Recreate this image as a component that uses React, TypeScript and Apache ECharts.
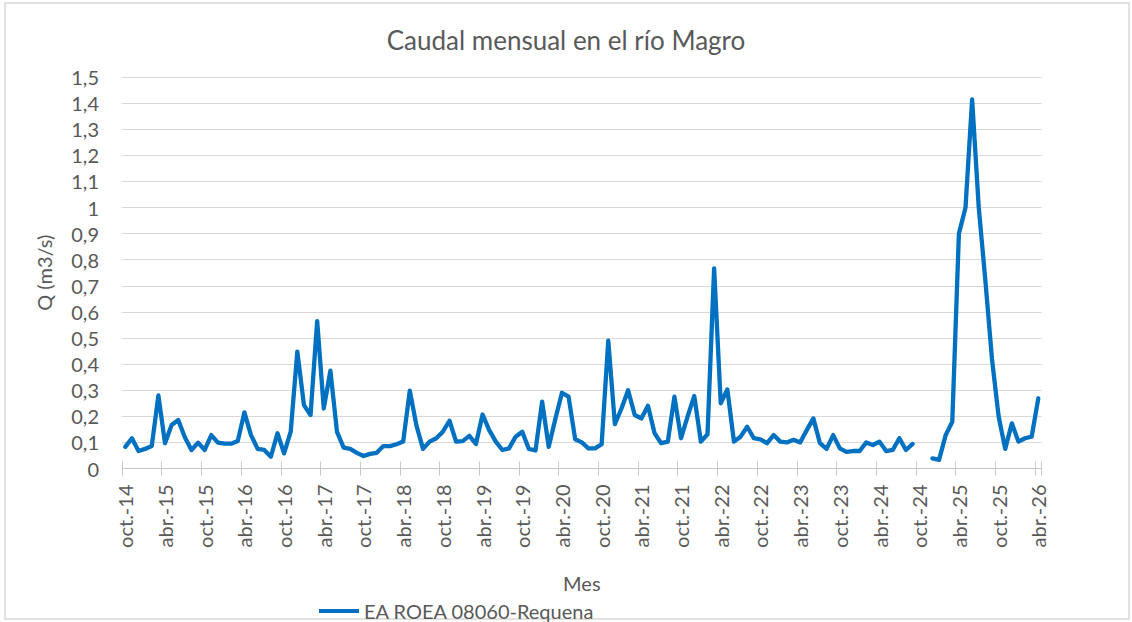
import React, { useEffect, useRef } from "react";
import * as echarts from "echarts";

const monthNames = ["oct.", "nov.", "dic.", "ene.", "feb.", "mar.", "abr.", "may.", "jun.", "jul.", "ago.", "sept."];
const startYear = 14;
const monthCount = 139;

const categories: string[] = [];
for (let i = 0; i < monthCount; i++) {
  const yy = startYear + Math.floor((i + 9) / 12);
  categories.push(`${monthNames[i % 12]}-${yy}`);
}

const seriesName = "EA ROEA 08060-Requena";

const flow2014_2017 = [
  0.083, 0.116, 0.067, 0.075, 0.086, 0.28, 0.097, 0.167, 0.186, 0.12, 0.071, 0.099,
  0.071, 0.128, 0.099, 0.095, 0.095, 0.105, 0.215, 0.128, 0.075, 0.071, 0.045, 0.135,
  0.058, 0.141, 0.448, 0.243, 0.205, 0.565, 0.23, 0.375, 0.14, 0.08, 0.075, 0.06,
];
const flow2017_2020 = [
  0.048, 0.056, 0.06, 0.086, 0.086, 0.093, 0.103, 0.298, 0.165, 0.075, 0.103, 0.116,
  0.141, 0.183, 0.103, 0.105, 0.125, 0.094, 0.207, 0.147, 0.103, 0.071, 0.077, 0.122,
  0.141, 0.075, 0.069, 0.256, 0.083, 0.19, 0.29, 0.275, 0.112, 0.1, 0.077, 0.077,
];
const flow2020_2023 = [
  0.093, 0.49, 0.17, 0.23, 0.3, 0.205, 0.192, 0.24, 0.135, 0.097, 0.103, 0.275,
  0.116, 0.2, 0.278, 0.103, 0.131, 0.767, 0.25, 0.303, 0.103, 0.122, 0.16, 0.116,
  0.112, 0.097, 0.128, 0.103, 0.1, 0.11, 0.1, 0.147, 0.192, 0.097, 0.075, 0.128,
];
const flow2023_2026 = [
  0.077, 0.064, 0.067, 0.067, 0.1, 0.09, 0.103, 0.067, 0.071, 0.116, 0.071, 0.094,
  null, null, 0.039, 0.033, 0.128, 0.179, 0.9, 1.0, 1.414, 1.0, 0.72, 0.42,
  0.2, 0.075, 0.173, 0.103, 0.116, 0.122, 0.269,
];

const flowValues = [...flow2014_2017, ...flow2017_2020, ...flow2020_2023, ...flow2023_2026];

const FONT = "Lato, 'Open Sans', sans-serif";
const TEXT = "#595959";

export default function App() {
  const ref = useRef<HTMLDivElement>(null);
  useEffect(() => {
    document.body.style.margin = "0";
    const chart = echarts.init(ref.current!, null, { renderer: "svg" });
    chart.setOption({
      animation: false,
      backgroundColor: "#ffffff",
      textStyle: { fontFamily: FONT },
      title: {
        text: "Caudal mensual en el río Magro",
        left: "center",
        top: 22,
        textStyle: { fontFamily: FONT, fontSize: 26, fontWeight: "normal", color: TEXT },
      },
      graphic: [
        {
          type: "rect",
          shape: { x: 5, y: 3, width: 1124, height: 616 },
          style: { fill: "none", stroke: "#d9d9d9", lineWidth: 1.5 },
          silent: true,
        },
      ],
      legend: {
        left: 314,
        top: 596,
        icon: "rect",
        itemWidth: 40,
        itemHeight: 4,
        itemGap: 10,
        textStyle: { fontFamily: FONT, fontSize: 20, color: TEXT },
        data: [seriesName],
      },
      grid: { left: 122, right: 90.4, top: 77, bottom: 153.5, containLabel: false },
      xAxis: [
        {
          type: "category",
          data: categories,
          boundaryGap: true,
          name: "Mes",
          nameLocation: "middle",
          nameGap: 104,
          nameTextStyle: { fontFamily: FONT, fontSize: 20, color: TEXT },
          axisLine: { lineStyle: { color: "#c8c8c8", width: 1 } },
          axisTick: { show: true, interval: 5, length: 7, lineStyle: { color: "#c8c8c8" } },
          axisLabel: {
            interval: 5,
            rotate: 90,
            margin: 16,
            fontFamily: FONT,
            fontSize: 20,
            color: TEXT,
          },
          splitLine: { show: false },
        },
        {
          type: "category",
          data: categories,
          boundaryGap: true,
          position: "bottom",
          axisLine: { show: false },
          axisTick: { show: true, inside: true, interval: 5, length: 7, lineStyle: { color: "#c8c8c8" } },
          axisLabel: { show: false },
          splitLine: { show: false },
        },
      ],
      yAxis: {
        type: "value",
        min: 0,
        max: 1.5,
        interval: 0.1,
        name: "Q (m3/s)",
        nameLocation: "middle",
        nameGap: 68,
        nameTextStyle: { fontFamily: FONT, fontSize: 20, color: TEXT },
        axisLine: { show: false },
        axisTick: { show: false },
        axisLabel: {
          margin: 23,
          fontFamily: FONT,
          fontSize: 20,
          color: TEXT,
          formatter: (v: number) => String(Math.round(v * 10) / 10).replace(".", ","),
        },
        splitLine: { lineStyle: { color: "#d9d9d9", width: 1 } },
      },
      series: [
        {
          name: seriesName,
          type: "line",
          data: flowValues,
          symbol: "none",
          connectNulls: false,
          color: "#0070C0",
          lineStyle: { color: "#0070C0", width: 4.3, join: "round", cap: "round" },
        },
      ],
    });
    return () => chart.dispose();
  }, []);
  return <div ref={ref} style={{ width: 1132, height: 622 }} />;
}
